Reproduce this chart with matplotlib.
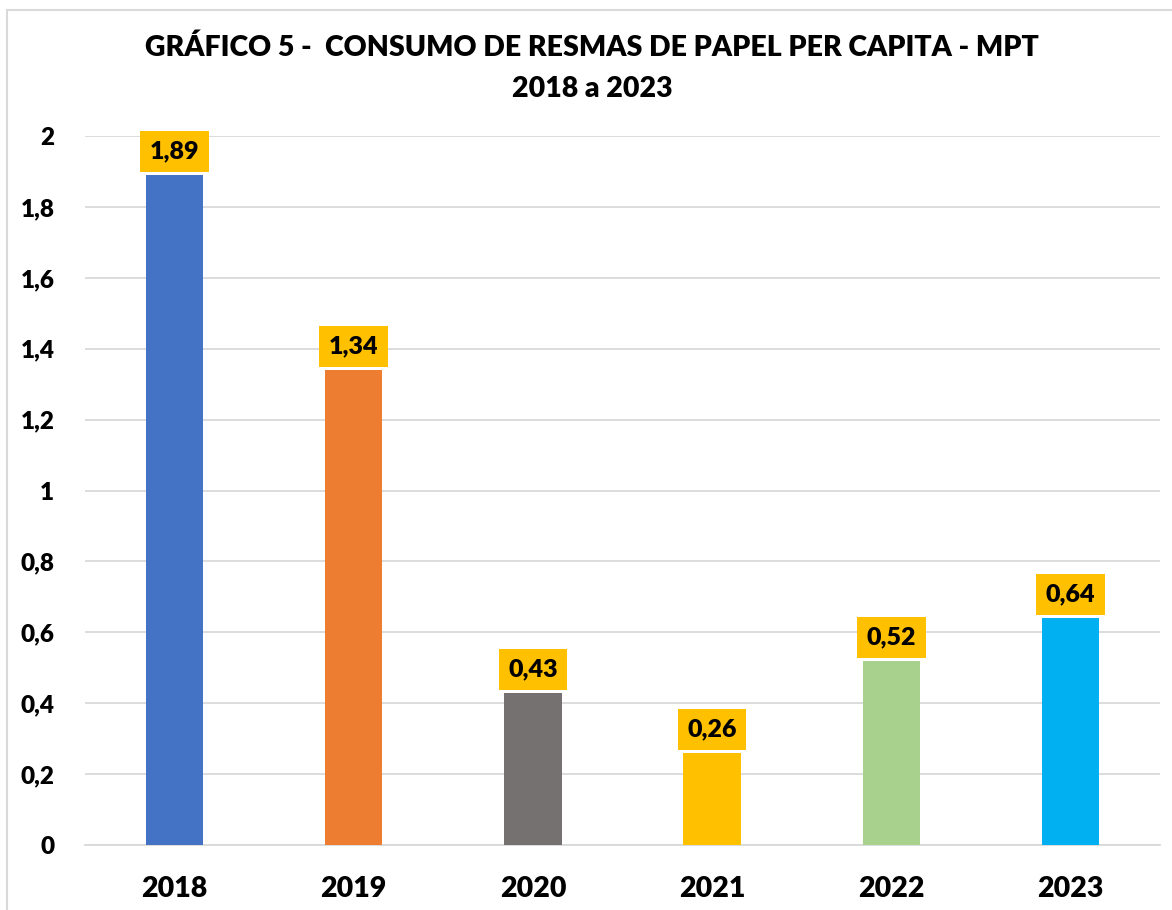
import matplotlib.pyplot as plt
import matplotlib.patches as patches

plt.rcParams['font.family'] = ['Lato', 'DejaVu Sans']

# data
years = ['2018', '2019', '2020', '2021', '2022', '2023']
values = [1.89, 1.34, 0.43, 0.26, 0.52, 0.64]
colors = ['#4472C4', '#ED7D31', '#767171', '#FFC000', '#A9D18E', '#00B0F0']
yticks = [0, 0.2, 0.4, 0.6, 0.8, 1, 1.2, 1.4, 1.6, 1.8, 2]

W = 'heavy'

fig = plt.figure(figsize=(11.72, 9.10), dpi=100)
ax = fig.add_axes([0.0725, 0.0714, 0.9173, 0.7791])

# border round the chart
fig.patches.append(patches.Rectangle((7 / 1172, -0.01), 1.1, 1 - 10 / 910 + 0.01,
                                     transform=fig.transFigure, fill=False,
                                     ec='#D9D9D9', lw=1.5))

x = range(len(years))
bars = ax.bar(x, values, width=0.32, color=colors, zorder=3)

for xi, v in zip(x, values):
    ax.annotate(('%.2f' % v).replace('.', ','), (xi, v), xytext=(0, 9),
                textcoords='offset points', ha='center', va='bottom',
                fontsize=18, fontweight=W, color='black',
                bbox=dict(boxstyle='square,pad=0.38', fc='#FFC000', ec='none'),
                annotation_clip=False)

ax.set_xlim(-0.5, len(years) - 0.5)
ax.set_ylim(0, 2)
ax.set_yticks(yticks)
ax.set_yticklabels([('%g' % t).replace('.', ',') for t in yticks],
                   fontsize=17.5, fontweight=W)
ax.set_xticks(list(x))
ax.set_xticklabels(years, fontsize=20.5, fontweight=W)
ax.tick_params(axis='both', length=0)
ax.tick_params(axis='y', pad=22)
ax.tick_params(axis='x', pad=22)
ax.grid(axis='y', color='#D9D9D9', lw=1.3, zorder=0)
for s in ['top', 'right', 'left']:
    ax.spines[s].set_visible(False)
ax.spines['bottom'].set_color('#D9D9D9')
ax.spines['bottom'].set_linewidth(1.3)

fig.text(0.505, 0.948, 'GRÁFICO 5 -  CONSUMO DE RESMAS DE PAPEL PER CAPITA - MPT',
         ha='center', va='center', fontsize=20.5, fontweight=W)
fig.text(0.505, 0.902, '2018 a 2023', ha='center', va='center',
         fontsize=20.5, fontweight=W)

fig.savefig('out.png', dpi=100)
